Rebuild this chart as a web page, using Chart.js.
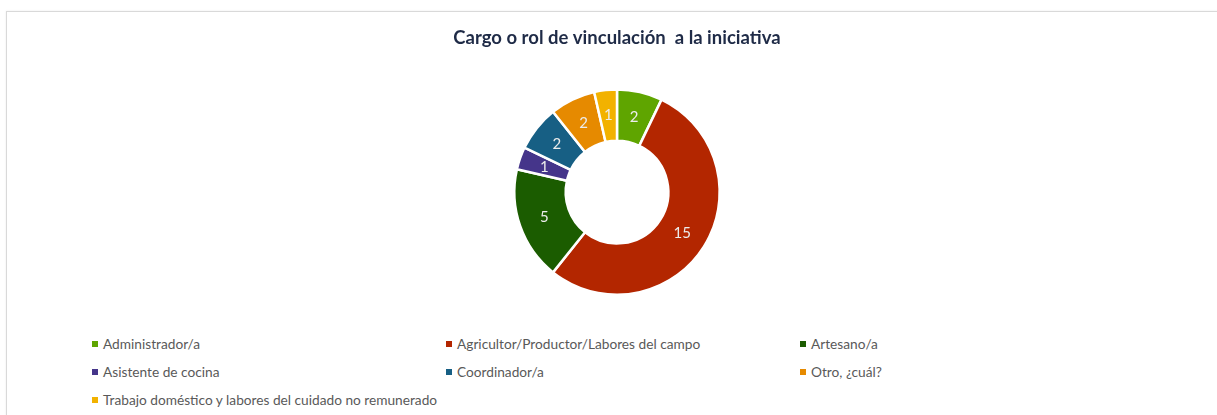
<!DOCTYPE html>
<html>
<head>
<meta charset="utf-8">
<script src="https://cdn.jsdelivr.net/npm/chart.js@4.4.1/dist/chart.umd.min.js"></script>
<style>
  html, body { margin: 0; padding: 0; background: #ffffff; }
  body { width: 1217px; height: 415px; overflow: hidden; position: relative; font-family: Lato, "Open Sans", sans-serif; }
  #frame { position: absolute; left: 6px; top: 11px; width: 1230px; height: 430px; border: 1px solid #d9d9d9; box-shadow: 0 0 2px rgba(0,0,0,0.08); background: #fff; }
  #wrap { position: absolute; left: 0; top: 0; width: 1217px; height: 320px; }
  #legend { position: absolute; left: 0; top: 334px; width: 1217px; }
  .item { position: absolute; font-size: 13.7px; color: #595959; white-space: nowrap; line-height: 20px; }
  .sw { display: inline-block; width: 6px; height: 6px; margin-right: 5px; vertical-align: 2px; }
</style>
</head>
<body>
<div id="frame"></div>
<div id="wrap"><canvas id="c"></canvas></div>
<div id="legend"></div>
<script>
const title = "Cargo o rol de vinculación  a la iniciativa";
const categories = [
  "Administrador/a",
  "Agricultor/Productor/Labores del campo",
  "Artesano/a",
  "Asistente de cocina",
  "Coordinador/a",
  "Otro, ¿cuál?",
  "Trabajo doméstico y labores del cuidado no remunerado"
];
const values = [2, 15, 5, 1, 2, 2, 1];
const colors = ["#5fa500", "#b32600", "#1b5c00", "#45358a", "#175f84", "#e68a00", "#f2b200"];

const valueLabels = {
  id: 'valueLabels',
  afterDatasetsDraw(chart) {
    const ctx = chart.ctx;
    const meta = chart.getDatasetMeta(0);
    ctx.save();
    ctx.fillStyle = '#ececec';
    ctx.font = '15px Lato, "Open Sans", sans-serif';
    ctx.textAlign = 'center';
    ctx.textBaseline = 'middle';
    meta.data.forEach((arc, i) => {
      const p = arc.tooltipPosition();
      ctx.fillText(String(chart.data.datasets[0].data[i]), p.x, p.y);
    });
    ctx.restore();
  }
};

const chart = new Chart(document.getElementById('c'), {
  type: 'doughnut',
  data: {
    labels: categories,
    datasets: [{
      data: values,
      backgroundColor: colors,
      borderColor: '#ffffff',
      borderWidth: 2.5,
      cutout: '50%'
    }]
  },
  options: {
    responsive: true,
    maintainAspectRatio: false,
    animation: false,
    layout: { padding: { left: 17, right: 0, top: 0, bottom: 24 } },
    plugins: {
      legend: { display: false },
      tooltip: { enabled: false },
      title: {
        display: true,
        text: title,
        color: '#1f2b47',
        font: { family: 'Lato, "Open Sans", sans-serif', size: 18.5, weight: 'bold' },
        padding: { top: 27, bottom: 39 }
      }
    }
  },
  plugins: [valueLabels]
});

// HTML legend built from the chart's own labels
const legendEl = document.getElementById('legend');
const colX = [92, 446, 800];
const rowY = [0, 28, 56];
const items = Chart.overrides.doughnut.plugins.legend.labels.generateLabels(chart);
items.forEach((it, i) => {
  const d = document.createElement('div');
  d.className = 'item';
  d.style.left = colX[i % 3] + 'px';
  d.style.top = rowY[Math.floor(i / 3)] + 'px';
  const sw = document.createElement('span');
  sw.className = 'sw';
  sw.style.background = it.fillStyle;
  d.appendChild(sw);
  d.appendChild(document.createTextNode(it.text));
  legendEl.appendChild(d);
});
</script>
</body>
</html>
